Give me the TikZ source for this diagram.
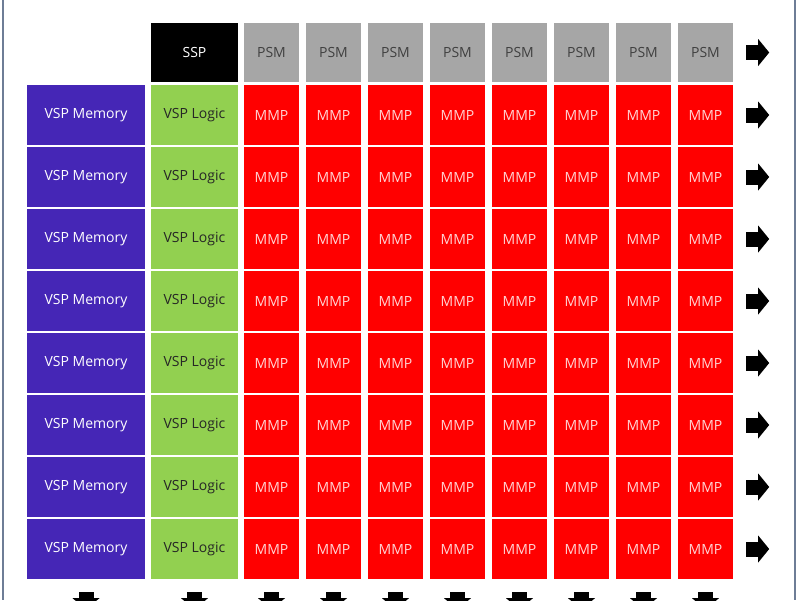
\documentclass[tikz,border=0pt]{standalone}
\usepackage{fontspec}
\setmainfont{Open Sans}
\usetikzlibrary{arrows.meta}
\definecolor{vspblue}{RGB}{69,38,182}
\definecolor{vspgreen}{RGB}{146,208,80}
\definecolor{psmgray}{RGB}{166,166,166}
\definecolor{mmptext}{RGB}{255,212,212}
\definecolor{framegray}{RGB}{110,125,150}
\tikzset{
cell/.style={inner sep=0pt, minimum height=60pt, font=\fontsize{14}{16}\selectfont},
memcell/.style={cell, fill=vspblue, text=white, minimum width=118pt},
logiccell/.style={cell, fill=vspgreen, text=black!85, minimum width=87pt},
mmpcell/.style={cell, fill=red, text=mmptext, minimum width=55pt},
headcell/.style={cell, minimum height=59pt},
blockarrow/.style={line width=15pt, -{Triangle[length=11pt,width=27pt,line width=0pt]}}
}

\begin{document}
\begin{tikzpicture}[x=1pt, y=-1pt]
      \useasboundingbox (0,0) rectangle (800,600);
      \draw[framegray, line width=2pt] (3,0) -- (3,600);
      \draw[framegray, line width=2pt] (795,0) -- (795,600);
      % top row
      \node[headcell, fill=black, text=white, minimum width=87pt] (ssp) at (194.5,52.5) {SSP};
      \foreach \c in {1,...,8} {
        \pgfmathsetmacro{\x}{271.5+62*(\c-1)}
        \node[headcell, fill=psmgray, text=black!75, minimum width=55pt] (psm-\c) at (\x,52.5) {PSM};
      }
      \draw[blockarrow] ([xshift=13pt]psm-8.east) -- ++(23,0);
      % grid
      \foreach \r in {1,...,8} {
        \pgfmathsetmacro{\y}{115+62*(\r-1)}
        \node[memcell] (mem-\r) at (86,\y) {VSP Memory};
        \node[logiccell] (logic-\r) at (194.5,\y) {VSP Logic};
        \foreach \c in {1,...,8} {
          \pgfmathsetmacro{\x}{271.5+62*(\c-1)}
          \node[mmpcell] (mmp-\r-\c) at (\x,\y) {MMP};
        }
        \draw[blockarrow] ([xshift=13pt]mmp-\r-8.east) -- ++(23,0);
      }
      % arrows below
      \draw[blockarrow] ([yshift=-13pt]mem-8.south) -- ++(0,17);
      \draw[blockarrow] ([yshift=-13pt]logic-8.south) -- ++(0,17);
      \foreach \c in {1,...,8} {
        \draw[blockarrow] ([yshift=-13pt]mmp-8-\c.south) -- ++(0,17);
      }
    \end{tikzpicture}
\end{document}
